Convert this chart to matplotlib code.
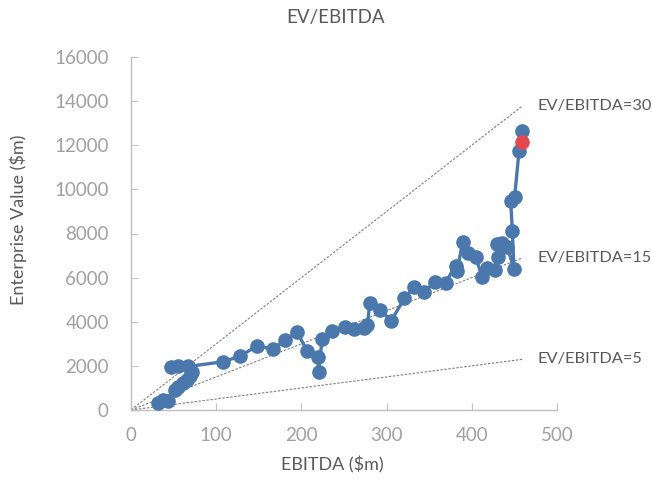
import matplotlib.pyplot as plt

plt.rcParams['font.family'] = ['Lato', 'DejaVu Sans']

# EBITDA ($m) and Enterprise Value ($m) in path order
ebitda = [31.7, 37.6, 43.5, 51.7, 55.3, 61.1, 65.8, 69.4, 71.1, 47.0,
          55.3, 67.0, 108.5, 128.2, 147.8, 166.6, 181.1, 194.8, 206.6, 219.0,
          220.2, 224.2, 236.0, 251.6, 262.2, 274.0, 277.5, 280.2, 292.8, 305.4,
          321.0, 331.9, 343.7, 356.3, 369.2, 380.9, 383.0, 389.2, 395.1, 404.5,
          412.3, 417.4, 426.8, 430.3, 430.0, 435.9, 441.8, 449.5, 447.6, 445.6,
          450.3, 455.4, 459.4]
ev = [317, 453, 408, 907, 1043, 1224, 1360, 1541, 1723, 1949,
      1972, 1972, 2190, 2448, 2901, 2765, 3173, 3549, 2688, 2389,
      1736, 3205, 3595, 3776, 3658, 3731, 3853, 4837, 4533, 4048,
      5063, 5562, 5335, 5816, 5771, 6541, 6315, 7629, 7117, 6936,
      6015, 6423, 6324, 6936, 7525, 7557, 7403, 6378, 8114, 9488,
      9669, 11727, 12647]

latest_ebitda = [459.4]
latest_ev = [12162]

multiples = [30, 15, 5]

fig = plt.figure(figsize=(6.52, 4.79), dpi=100)
ax = fig.add_axes([131 / 652, 1 - 410 / 479, 426 / 652, 353 / 479])

x_end = max(ebitda)
for m in multiples:
    ax.plot([0, x_end], [0, m * x_end], color='#7f7f7f', lw=0.8,
            dashes=(2.2, 1.4), zorder=1)
    ax.text(477.5, m * x_end, f'EV/EBITDA={m}', color='#595959',
            fontsize=11.8, va='center', ha='left')

ax.plot(ebitda, ev, color='#4a78ad', lw=2.4, marker='o', ms=9.5,
        zorder=3)
ax.plot(latest_ebitda, latest_ev, color='#e5484c', marker='o', ms=9.5,
        ls='none', zorder=4)

ax.set_xlim(0, 500)
ax.set_ylim(0, 16000)
ax.set_xticks(range(0, 501, 100))
ax.set_yticks(range(0, 16001, 2000))

for side in ('top', 'right'):
    ax.spines[side].set_visible(False)
for side in ('left', 'bottom'):
    ax.spines[side].set_color('#bfbfbf')
    ax.spines[side].set_linewidth(1.0)
ax.tick_params(direction='in', length=5, color='#bfbfbf', labelcolor='#a0a0a0',
               labelsize=13.5)
ax.tick_params(axis='y', pad=16)
ax.tick_params(axis='x', pad=12)

fig.text(336 / 652, 1 - 18 / 479, 'EV/EBITDA', ha='center', va='center',
         fontsize=13.5, color='#595959')
fig.text(332 / 652, 1 - 465 / 479, 'EBITDA ($m)', ha='center', va='center',
         fontsize=13, color='#595959')
fig.text(18 / 652, 1 - 220 / 479, 'Enterprise Value ($m)', ha='center',
         va='center', rotation=90, fontsize=13, color='#595959')

fig.savefig('out.png', dpi=100)
